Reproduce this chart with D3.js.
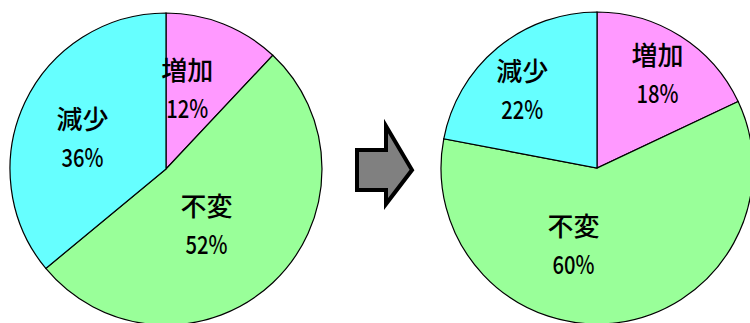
<!DOCTYPE html>
<html><head><meta charset="utf-8">
<script src="https://cdn.jsdelivr.net/npm/d3@7"></script>
<style>html,body{margin:0;padding:0;background:#fff;}svg{display:block;}</style>
</head><body>
<svg id="chart" width="750" height="323"></svg>
<script>
const categories = ["増加", "不変", "減少"];
const beforeValues = [12, 52, 36];
const afterValues = [18, 60, 22];

const colors = d3.scaleOrdinal().domain(categories).range(["#FF99FF", "#99FF99", "#66FFFF"]);
const svg = d3.select("#chart");
const font = "'Noto Sans CJK JP', sans-serif";

// label placement (polar: angle deg, radius px) per pie, per category
const pies = [
  {values: beforeValues, cx: 166, cy: 169, r: 156, labels: [[15, 82], [144.6, 70], [289.5, 88.6]]},
  {values: afterValues, cx: 597, cy: 168, r: 156, labels: [[33, 111], [196.8, 81.5], [316, 107.5]]}
];

const pie = d3.pie().sort(null).value(d => d.v);

pies.forEach(p => {
  const data = categories.map((c, i) => ({c, v: p.values[i], i}));
  const arcs = pie(data);
  const g = svg.append("g").attr("transform", `translate(${p.cx},${p.cy})`);
  const arc = d3.arc().innerRadius(0).outerRadius(p.r);
  g.selectAll("path").data(arcs).join("path")
    .attr("d", arc)
    .attr("fill", d => colors(d.data.c))
    .attr("stroke", "#000").attr("stroke-width", 1.2);
  arcs.forEach(d => {
    const [a, rr] = p.labels[d.index];
    const [x, y] = d3.pointRadial(a * Math.PI / 180, rr);
    g.append("text").attr("x", x).attr("y", y - 10)
      .attr("text-anchor", "middle").attr("font-family", font).attr("font-size", 26)
      .attr("font-weight", 500)
      .attr("fill", "#000").text(d.data.c);
    const t = g.append("text").attr("x", x).attr("y", y + 28)
      .attr("text-anchor", "middle").attr("font-family", font).attr("font-size", 25)
      .attr("font-weight", 500)
      .attr("fill", "#000").text(d.data.v + "%");
    t.attr("textLength", 42).attr("lengthAdjust", "spacingAndGlyphs");
  });
});

// arrow
const arrowPts = [[357,150],[386,150],[386,126],[412,170],[386,204],[386,190],[357,190]];
svg.append("path").attr("d", d3.line()(arrowPts) + "Z")
  .attr("fill", "#808080").attr("stroke", "#000").attr("stroke-width", 4).attr("stroke-linejoin", "miter");
</script>
</body></html>
